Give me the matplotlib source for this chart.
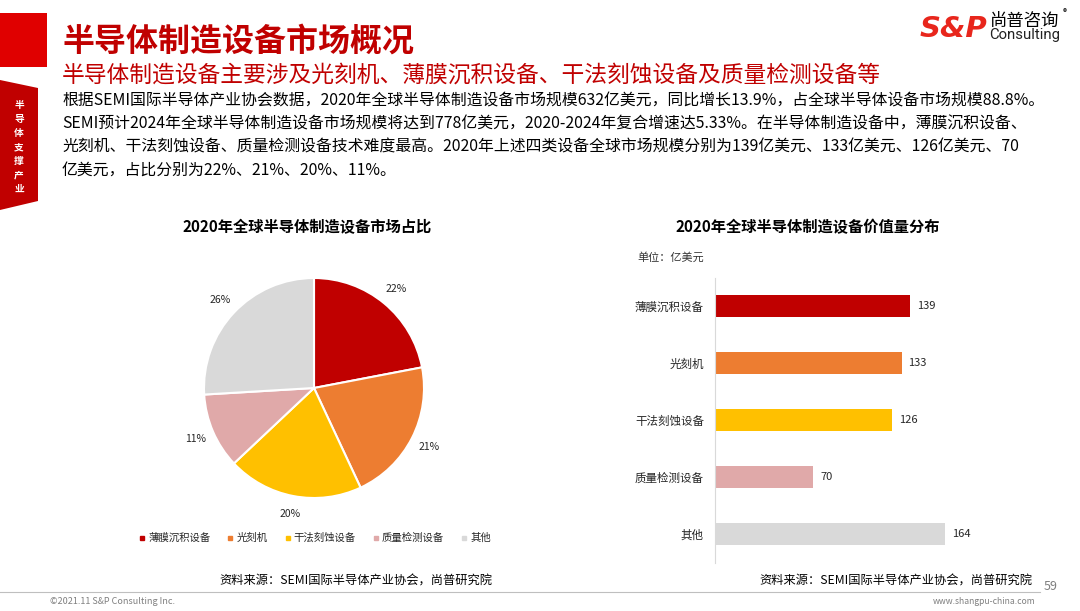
import matplotlib.pyplot as plt
from matplotlib.patches import Rectangle, Polygon
from matplotlib.lines import Line2D

plt.rcParams['font.family'] = ['Noto Sans CJK SC', 'DejaVu Sans']

# data
categories = ['薄膜沉积设备', '光刻机', '干法刻蚀设备', '质量检测设备', '其他']
values = [139, 133, 126, 70, 164]
colors = ['#C00000', '#ED7D31', '#FFC000', '#E0A9A9', '#D9D9D9']

title = '半导体制造设备市场概况'
subtitle = '半导体制造设备主要涉及光刻机、薄膜沉积设备、干法刻蚀设备及质量检测设备等'
body_lines = [
    '根据SEMI国际半导体产业协会数据，2020年全球半导体制造设备市场规模632亿美元，同比增长13.9%，占全球半导体设备市场规模88.8%。',
    'SEMI预计2024年全球半导体制造设备市场规模将达到778亿美元，2020-2024年复合增速达5.33%。在半导体制造设备中，薄膜沉积设备、',
    '光刻机、干法刻蚀设备、质量检测设备技术难度最高。2020年上述四类设备全球市场规模分别为139亿美元、133亿美元、126亿美元、70',
    '亿美元，占比分别为22%、21%、20%、11%。',
]
pie_title = '2020年全球半导体制造设备市场占比'
bar_title = '2020年全球半导体制造设备价值量分布'
unit_text = '单位：亿美元'
source_text = '资料来源：SEMI国际半导体产业协会，尚普研究院'

W, H = 1080, 611
fig = plt.figure(figsize=(W / 100, H / 100), dpi=100)

# background layer in pixel coords
bg = fig.add_axes([0, 0, 1, 1], zorder=0)
bg.set_xlim(0, W)
bg.set_ylim(H, 0)
bg.axis('off')

# left red tab
bg.add_patch(Rectangle((0, 13), 47, 54, color='#E00000', lw=0))
bg.add_patch(Polygon([(0, 80), (38, 88), (38, 201), (0, 210)], closed=True, color='#C00000', lw=0))
bg.text(19, 147, '\n'.join('半导体支撑产业'), color='white', fontsize=7, fontweight='bold',
        ha='center', va='center', linespacing=1.5)

# title block
bg.text(62, 42, title, color='#C00000', fontsize=23, fontweight='bold', va='center')
bg.text(62, 75, subtitle, color='#C00000', fontsize=16.4, va='center')
for i, line in enumerate(body_lines):
    bg.text(62, 101 + i * 23, line, color='black', fontsize=11.4, va='center')

# logo
bg.text(920, 29, 'S&P', color='#E8261C', fontsize=21, fontweight='bold', fontstyle='italic',
        family='DejaVu Sans', va='center')
bg.text(990, 21, '尚普咨询', color='black', fontsize=12.5, va='center')
bg.text(1063, 13, '®', color='black', fontsize=6, va='center')
bg.text(989, 35, 'Consulting', color='#222222', fontsize=10.7, family='Roboto', va='center')

# chart titles
bg.text(307, 227, pie_title, fontsize=11, fontweight='bold', ha='center', va='center')
bg.text(808, 227, bar_title, fontsize=11, fontweight='bold', ha='center', va='center')
bg.text(637, 257, unit_text, fontsize=8, ha='left', va='center', color='#333333')

# sources and footer
bg.text(356, 581, source_text, fontsize=8.8, ha='center', va='center')
bg.text(896, 581, source_text, fontsize=8.8, ha='center', va='center')
bg.text(1051, 586, '59', fontsize=9, color='#7F7F7F', ha='center', va='center')
bg.plot([0, 1040], [592, 592], color='#BFBFBF', lw=0.8)
bg.text(50, 602, '©2021.11 S&P Consulting Inc.', fontsize=6.5, color='#7F7F7F', va='center')
bg.text(1035, 602, 'www.shangpu-china.com', fontsize=6.2, color='#7F7F7F', ha='right', va='center')

# pie chart
cx, cy, r = 314, 388, 110
ax1 = fig.add_axes([(cx - r) / W, (H - cy - r) / H, 2 * r / W, 2 * r / H], zorder=1)
wedges, texts, autotexts = ax1.pie(values, colors=colors, startangle=90, counterclock=False,
                                   autopct=lambda p: f'{p:.0f}%', pctdistance=1.17,
                                   wedgeprops=dict(edgecolor='white', linewidth=1.5),
                                   textprops=dict(fontsize=7.5, color='#262626'))
ax1.set_xlim(-1, 1)
ax1.set_ylim(-1, 1)

handles = [Line2D([], [], marker='s', ls='', markersize=3, color=c) for c in colors]
fig.legend(handles, categories, loc='center', bbox_to_anchor=(315 / W, 1 - 538 / H), ncol=5,
           frameon=False, fontsize=7.5, handlelength=0.6, handletextpad=0.3, columnspacing=1.6,
           labelcolor='#262626')

# bar chart
ax2 = fig.add_axes([715 / W, 48.5 / H, 280.6 / W, 285 / H], zorder=1)
ypos = list(range(len(categories)))
ax2.barh(ypos, values, height=0.4, color=colors)
ax2.set_xlim(0, 200)
ax2.set_ylim(len(categories) - 0.5, -0.5)
ax2.set_yticks(ypos)
ax2.set_yticklabels(categories, fontsize=8.3, color='#262626')
ax2.tick_params(axis='y', length=0, pad=8)
ax2.set_xticks([])
for s in ['top', 'right', 'bottom']:
    ax2.spines[s].set_visible(False)
ax2.spines['left'].set_color('#D9D9D9')
ax2.patch.set_alpha(0)
for y, v in zip(ypos, values):
    ax2.annotate(str(v), (v, y), xytext=(5, 0), textcoords='offset points',
                 va='center', ha='left', fontsize=8, color='#262626')

fig.savefig('out.png', dpi=100)
